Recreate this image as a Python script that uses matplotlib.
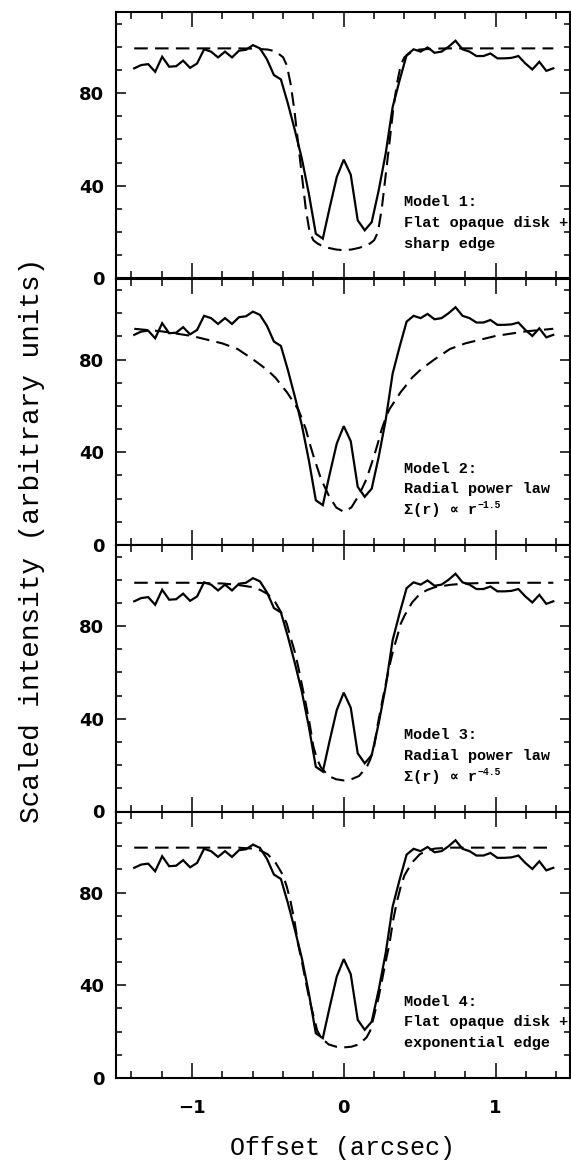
import numpy as np
import matplotlib
matplotlib.use("Agg")
import matplotlib.pyplot as plt
from matplotlib.ticker import MultipleLocator, FixedLocator

# ---------------- data ----------------
obs_x = [-1.380, -1.334, -1.288, -1.242, -1.196, -1.150, -1.104, -1.058, -1.012, -0.966,
         -0.920, -0.874, -0.828, -0.782, -0.736, -0.690, -0.644, -0.598, -0.552, -0.506,
         -0.460, -0.414, -0.368, -0.322, -0.276, -0.230, -0.184, -0.138, -0.092, -0.046,
         0.000, 0.046, 0.092, 0.138, 0.184, 0.230, 0.276, 0.322, 0.368, 0.414,
         0.460, 0.506, 0.552, 0.598, 0.644, 0.690, 0.736, 0.782, 0.828, 0.874,
         0.920, 0.966, 1.012, 1.058, 1.104, 1.150, 1.196, 1.242, 1.288, 1.334, 1.380]
obs_y = [90.7, 92.1, 92.5, 89.2, 95.7, 91.4, 91.6, 94.0, 90.9, 92.8,
         98.9, 97.9, 95.4, 97.9, 95.4, 98.3, 98.7, 100.7, 99.3, 94.6,
         87.8, 85.9, 75.5, 64.0, 51.7, 36.6, 19.3, 17.2, 30.8, 43.8,
         51.3, 44.8, 25.1, 20.8, 24.3, 38.0, 53.9, 74.0, 85.6, 96.4,
         98.9, 97.9, 99.7, 97.4, 97.9, 100.0, 102.6, 98.9, 97.9, 96.0,
         96.0, 97.1, 95.0, 95.0, 95.2, 96.0, 92.8, 90.2, 93.5, 89.6, 90.7]

model_x = [-1.38, -1.2, -1.0, -0.8, -0.7, -0.6, -0.55, -0.5, -0.45, -0.4, -0.375, -0.35,
           -0.325, -0.3, -0.275, -0.25, -0.225, -0.2, -0.175, -0.15, -0.1, -0.05, 0.0,
           0.05, 0.1, 0.15, 0.175, 0.2, 0.225, 0.25, 0.275, 0.3, 0.325, 0.35, 0.375,
           0.4, 0.45, 0.5, 0.55, 0.6, 0.7, 0.8, 1.0, 1.2, 1.38]

model1_y = [99.3, 99.3, 99.3, 99.3, 99.3, 99.2, 99.0, 98.8, 98.0, 95.5, 92.0, 84.0,
            72.6, 58.0, 44.0, 30.0, 20.0, 16.5, 15.2, 14.3, 13.2, 12.5, 12.2,
            12.5, 13.2, 14.3, 15.2, 16.5, 20.0, 30.0, 44.0, 58.0, 72.6, 84.0, 92.0,
            95.5, 98.0, 98.8, 99.0, 99.2, 99.3, 99.3, 99.3, 99.3, 99.3]

model2_y = [93.3, 92.2, 90.2, 87.0, 84.6, 80.2, 77.8, 75.3, 72.2, 68.0, 66.0, 63.5,
            61.0, 58.5, 54.5, 50.0, 44.0, 38.5, 33.5, 28.5, 21.5, 16.2, 14.3,
            16.2, 21.5, 28.5, 33.5, 38.5, 44.0, 50.0, 54.5, 58.5, 61.0, 63.5, 66.0,
            68.0, 72.2, 75.3, 77.8, 80.2, 84.6, 87.0, 90.2, 92.2, 93.3]

model3_y = [98.7, 98.7, 98.7, 98.4, 97.8, 96.8, 95.6, 93.8, 90.2, 84.5, 81.0, 75.0,
            69.5, 62.5, 54.5, 46.5, 38.0, 28.0, 22.5, 19.0, 15.3, 13.9, 13.4,
            13.9, 15.3, 19.0, 22.5, 28.0, 38.0, 46.5, 54.5, 62.5, 69.5, 75.0, 81.0,
            84.5, 90.2, 93.8, 95.6, 96.8, 97.8, 98.4, 98.7, 98.7, 98.7]

model4_y = [99.4, 99.4, 99.4, 99.4, 99.4, 99.0, 98.2, 96.5, 93.0, 87.5, 82.5, 76.0,
            68.0, 57.5, 50.0, 41.5, 33.5, 27.0, 20.5, 17.5, 14.5, 13.5, 13.2,
            13.5, 14.5, 17.5, 20.5, 27.0, 33.5, 41.5, 50.0, 57.5, 68.0, 76.0, 82.5,
            87.5, 93.0, 96.5, 98.2, 99.0, 99.4, 99.4, 99.4, 99.4, 99.4]

models = [model1_y, model2_y, model3_y, model4_y]
labels = [("Model 1:", "Flat opaque disk +", "sharp edge", None),
          ("Model 2:", "Radial power law", "Σ(r) ∝ r", "−1.5"),
          ("Model 3:", "Radial power law", "Σ(r) ∝ r", "−4.5"),
          ("Model 4:", "Flat opaque disk +", "exponential edge", None)]

ytick_vals = [0, 40, 80]
xtick_vals = [-1, 0, 1]
xtick_labels = ["\u22121", "0", "1"]

# ---------------- figure ----------------
W, H = 571, 1162
fig = plt.figure(figsize=(W / 100, H / 100), dpi=100)

left = 116 / W
right = 570 / W
bottom = 1 - 1078 / H
top = 1 - 12 / H
ph = (top - bottom) / 4

tick_font = dict(family=["DejaVu Sans"], weight="bold", size=13)
ann_family = ["Liberation Mono", "DejaVu Sans Mono", "DejaVu Sans"]
lab_family = ["Liberation Mono", "DejaVu Sans Mono"]

for i in range(4):
    ax = fig.add_axes([left, top - (i + 1) * ph, right - left, ph])
    ax.plot(obs_x, obs_y, color="black", lw=1.6, solid_joinstyle="miter")
    ax.plot(model_x, models[i], color="black", lw=1.5, linestyle=(0, (6.5, 3.5)))
    ax.set_xlim(-1.5, 1.49)
    ax.set_ylim(0, 115)

    ax.yaxis.set_major_locator(FixedLocator(ytick_vals))
    ax.yaxis.set_minor_locator(MultipleLocator(10))
    ax.xaxis.set_major_locator(FixedLocator(xtick_vals))
    ax.xaxis.set_minor_locator(MultipleLocator(0.2))

    ax.tick_params(axis="both", which="both", direction="in", top=True, right=True,
                   width=1.1, color="black")
    ax.tick_params(axis="x", which="major", length=10.5)
    ax.tick_params(axis="x", which="minor", length=5)
    ax.tick_params(axis="y", which="major", length=7.5)
    ax.tick_params(axis="y", which="minor", length=4.5)
    ax.tick_params(axis="y", which="major", pad=8.5)
    ax.tick_params(axis="x", which="major", pad=15)

    ax.set_yticklabels([str(v) for v in ytick_vals], fontdict=tick_font)
    if i == 3:
        ax.set_xticklabels(xtick_labels, fontdict=tick_font)
    else:
        ax.set_xticklabels([])

    for s in ax.spines.values():
        s.set_linewidth(1.5)

    l1, l2, l3, sup = labels[i]
    tx = 0.40
    ax.text(tx, 33, l1, family=ann_family, weight="bold", size=11, va="center", ha="left")
    ax.text(tx, 24, l2, family=ann_family, weight="bold", size=11, va="center", ha="left")
    t3 = ax.text(tx, 15, l3, family=ann_family, weight="bold", size=11, va="center", ha="left")
    if sup is not None:
        ax.annotate(sup, xy=(1.0, 0.85), xycoords=t3, family=ann_family, weight="bold",
                    size=7, va="center", ha="left")

fig.text(0.056, 0.535, "Scaled intensity (arbitrary units)", rotation=90,
         family=lab_family, size=20, ha="center", va="center")
fig.text((left + right) / 2, 0.012, "Offset (arcsec)", family=lab_family, size=18,
         ha="center", va="center")

fig.savefig("out.png", dpi=100)
